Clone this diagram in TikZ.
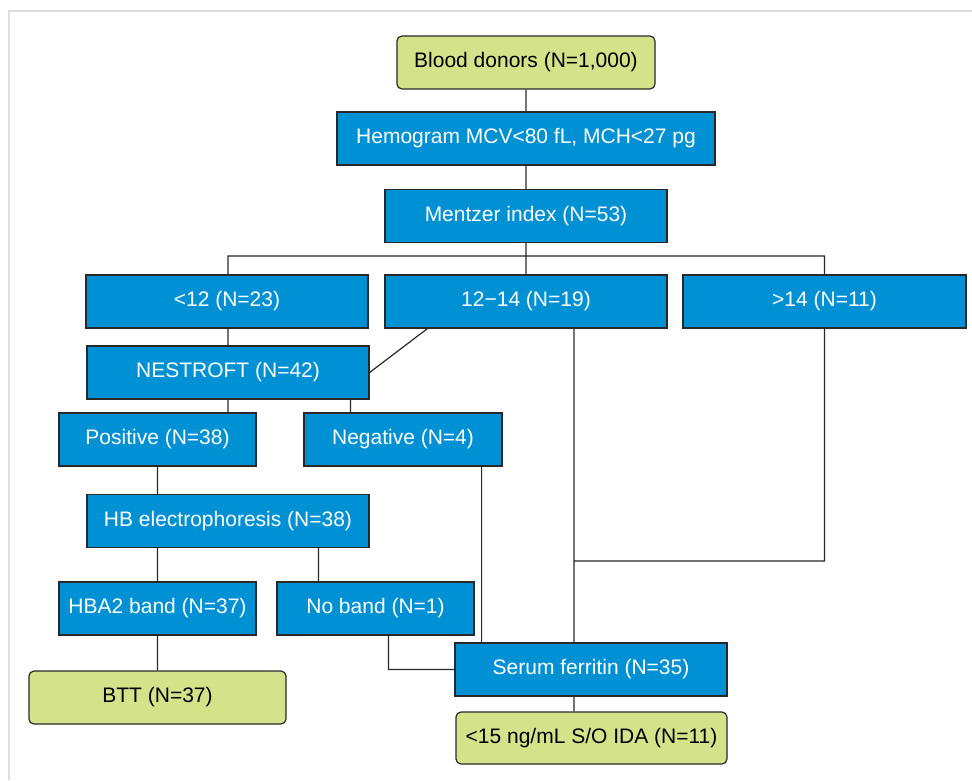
\documentclass[tikz,border=0pt]{standalone}
\usepackage{fontspec}
\setmainfont{Liberation Sans}
\usepackage{tikz}
\usetikzlibrary{positioning,calc}
\definecolor{boxblue}{RGB}{0,144,212}
\definecolor{boxgreen}{RGB}{212,227,138}
\definecolor{framegray}{RGB}{221,221,221}
\definecolor{linegray}{RGB}{40,40,40}
\tikzset{
  bluebox/.style={draw=linegray, line width=1.2pt, fill=boxblue, text=white,
    minimum height=53pt, inner sep=0pt, font=\fontsize{21}{24}\selectfont},
  greenbox/.style={bluebox, fill=boxgreen, text=black, rounded corners=5pt},
  link/.style={draw=linegray, line width=1.2pt}
}
\begin{document}
\begin{tikzpicture}[x=1pt, y=-1pt]
  \useasboundingbox (0,0) rectangle (972,780);
  \draw[framegray, line width=2pt] (9,780) -- (9,11) -- (972,11);

  \node[greenbox, minimum width=258pt] (donors) at (526,62.5) {Blood donors (N=1,000)};
  \node[bluebox, minimum width=378pt] (hemo) at (526,138.5) {Hemogram MCV<80 fL, MCH<27 pg};
  \node[bluebox, minimum width=282pt] (mentzer) at (526,216) {Mentzer index (N=53)};
  \node[bluebox, minimum width=282pt] (lt12) at (227,301.5) {<12 (N=23)};
  \node[bluebox, minimum width=282pt] (mid) at (526,301.5) {12−14 (N=19)};
  \node[bluebox, minimum width=283pt] (gt14) at (824.5,301.5) {>14 (N=11)};
  \node[bluebox, minimum width=282pt] (nest) at (228,372.5) {NESTROFT (N=42)};
  \node[bluebox, minimum width=197pt] (pos) at (157.5,439.5) {Positive (N=38)};
  \node[bluebox, minimum width=198pt] (neg) at (403,439.5) {Negative (N=4)};
  \node[bluebox, minimum width=282pt] (hb) at (228,521) {HB electrophoresis (N=38)};
  \node[bluebox, minimum width=197pt] (hba2) at (157.5,608.5) {HBA2 band (N=37)};
  \node[bluebox, minimum width=197pt] (noband) at (375.5,608.5) {No band (N=1)};
  \node[greenbox, minimum width=257pt] (btt) at (157.5,697.5) {BTT (N=37)};
  \node[bluebox, minimum width=272pt] (serum) at (591,669.5) {Serum ferritin (N=35)};
  \node[greenbox, minimum width=271pt, minimum height=52pt] (ida) at (591.5,738) {<15 ng/mL S/O IDA (N=11)};

  \coordinate (bus) at (526,256);
  \coordinate (join) at (574,561);

  \path[link]
    (donors) -- (hemo)
    (hemo) -- (mentzer)
    (mentzer) -- (mid)
    (lt12.north -| nest.north) |- (bus) -| (gt14.north)
    (lt12.south -| nest.north) -- (nest)
    ([xshift=43pt]mid.south west) -- (nest.east)
    (nest.south) -- (nest.south |- pos.north)
    ([xshift=47pt]neg.north west) -- ([xshift=47pt]neg.north west |- nest.south)
    (pos.south) -- (pos.south |- hb.north)
    (hba2.north) -- (hba2.north |- hb.south)
    ([xshift=42pt]noband.north west) -- ([xshift=42pt]noband.north west |- hb.south)
    (hba2) -- (btt)
    ([xshift=112pt]noband.south west) |- (serum.west)
    ([xshift=-21pt]neg.south east) -- ([xshift=-21pt]neg.south east |- serum.north)
    (join |- mid.south) -- (join |- serum.north)
    (gt14.south) |- (join)
    (join |- serum.south) -- (join |- ida.north);
\end{tikzpicture}
\end{document}
